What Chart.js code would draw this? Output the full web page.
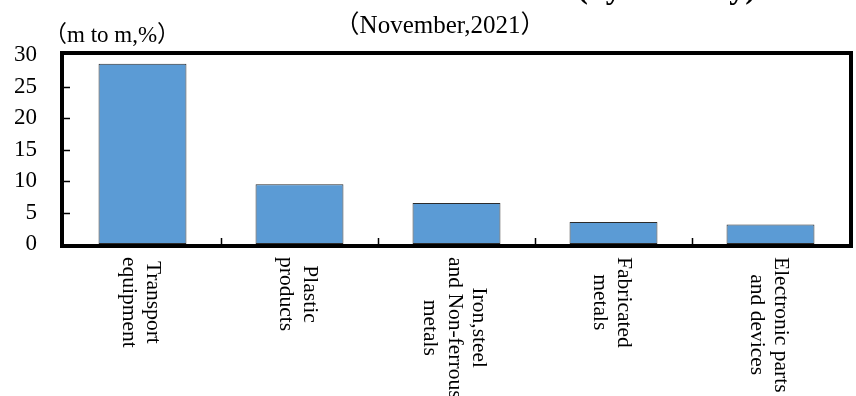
<!DOCTYPE html>
<html>
<head>
<meta charset="utf-8">
<script src="https://cdn.jsdelivr.net/npm/chart.js@4/dist/chart.umd.min.js"></script>
<style>
  html, body { margin: 0; padding: 0; background: #fff; }
  #wrap { width: 856px; height: 396px; }
</style>
</head>
<body>
<div id="wrap"><canvas id="chart" width="856" height="396"></canvas></div>
<script>
const categories = [
    ['Transport', 'equipment'],
    ['Plastic', 'products'],
    ['Iron,steel', 'and Non-ferrous', 'metals'],
    ['Fabricated', 'metals'],
    ['Electronic parts', 'and devices']
];
const changes = [28.6, 9.5, 6.5, 3.5, 3.1];
const yMin = 0;
const yMax = 30;
const yStep = 5;
const titleTail = '(by industry)';
const subTitle = '\uFF08November,2021\uFF09';
const unitLabel = '\uFF08m to m,%\uFF09';

const serif = '"Liberation Serif", "Noto Sans CJK JP", serif';

const framePlugin = {
    id: 'frame',
    afterDraw(chart) {
        const ctx = chart.ctx;
        const area = chart.chartArea;
        const x = chart.scales.x;
        const y = chart.scales.y;

        ctx.save();
        ctx.strokeStyle = '#000';

        // inward tick marks
        ctx.lineWidth = 1.5;
        ctx.beginPath();
        for (let v = yMin + yStep; v < yMax; v += yStep) {
            const py = Math.round(y.getPixelForValue(v)) + 0.5;
            ctx.moveTo(area.left, py);
            ctx.lineTo(area.left + 6, py);
        }
        for (let i = 1; i < categories.length; i++) {
            const px = Math.round((x.getPixelForValue(i - 1) + x.getPixelForValue(i)) / 2) + 0.5;
            ctx.moveTo(px, area.bottom);
            ctx.lineTo(px, area.bottom - 6);
        }
        ctx.stroke();

        // heavy plot frame
        ctx.lineWidth = 4;
        ctx.strokeRect(area.left - 2, area.top - 2, area.right - area.left + 4, area.bottom - area.top + 4);

        // rotated category labels
        ctx.fillStyle = '#000';
        ctx.font = '21.5px ' + serif;
        const lh = 24.5;
        categories.forEach(function (lines, i) {
            const cx = x.getPixelForValue(i);
            const maxW = Math.max.apply(null, lines.map(function (t) { return ctx.measureText(t).width; }));
            ctx.save();
            ctx.translate(cx - 2, area.bottom + 13);
            ctx.rotate(Math.PI / 2);
            ctx.textAlign = 'center';
            ctx.textBaseline = 'middle';
            lines.forEach(function (t, k) {
                ctx.fillText(t, maxW / 2, (k - (lines.length - 1) / 2) * lh);
            });
            ctx.restore();
        });

        // texts above the frame
        ctx.textBaseline = 'alphabetic';
        ctx.textAlign = 'left';
        ctx.font = '23px ' + serif;
        ctx.fillText(unitLabel, 44, 42);

        ctx.textAlign = 'center';
        ctx.font = '25px ' + serif;
        ctx.fillText(subTitle, 440, 33);

        ctx.textAlign = 'right';
        ctx.font = 'bold 32px ' + serif;
        ctx.fillText(titleTail, 756, -2);
        ctx.restore();
    }
};

new Chart(document.getElementById('chart'), {
    type: 'bar',
    data: {
        labels: categories,
        datasets: [{
            data: changes,
            backgroundColor: '#5B9BD5',
            borderColor: '#2b2b2b',
            borderWidth: 1,
            borderSkipped: false,
            categoryPercentage: 1,
            barPercentage: 0.56
        }]
    },
    options: {
        responsive: false,
        animation: false,
        layout: { padding: { top: 55, right: 7, left: 0, bottom: 0 } },
        plugins: {
            legend: { display: false },
            tooltip: { enabled: false },
            title: { display: false }
        },
        scales: {
            x: {
                grid: { display: false, drawTicks: false },
                border: { display: false },
                ticks: { display: false },
                afterFit: function (scale) { scale.height = 152; }
            },
            y: {
                min: yMin,
                max: yMax,
                grid: { display: false, drawTicks: false },
                border: { display: false },
                ticks: {
                    stepSize: yStep,
                    padding: 27,
                    color: '#000',
                    font: { family: serif, size: 23 }
                },
                afterFit: function (scale) { scale.width = 64; }
            }
        }
    },
    plugins: [framePlugin]
});
</script>
</body>
</html>
